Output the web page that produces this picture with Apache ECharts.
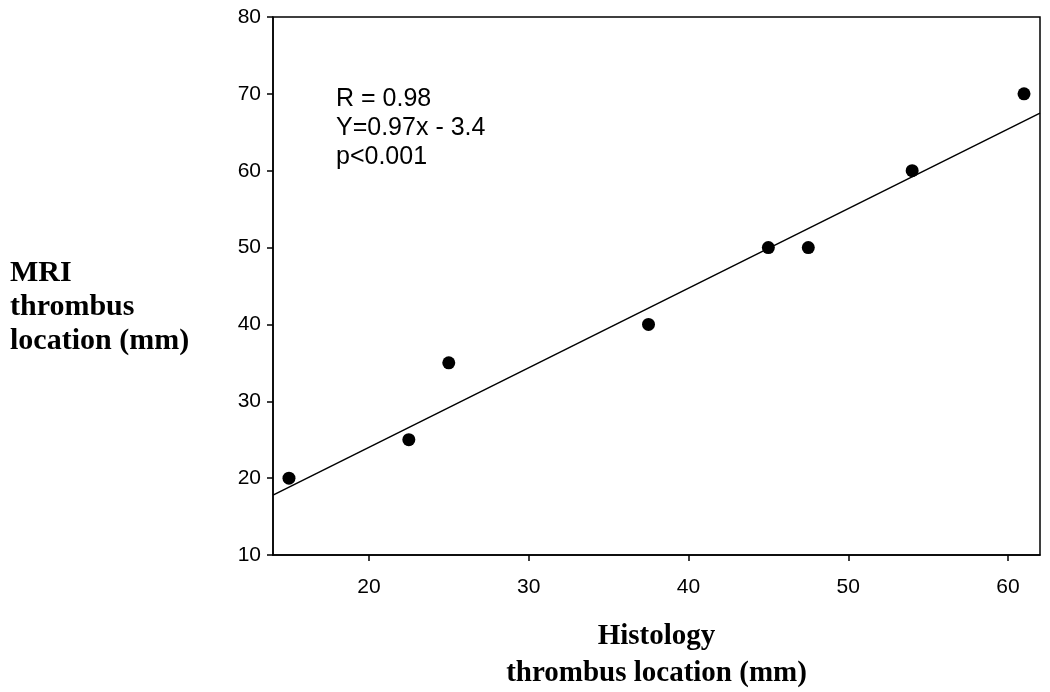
<!DOCTYPE html>
<html>
<head>
<meta charset="utf-8">
<script src="https://cdn.jsdelivr.net/npm/echarts@6/dist/echarts.min.js"></script>
<style>
  html, body { margin: 0; padding: 0; background: #fff; }
  #chart { width: 1050px; height: 692px; }
</style>
</head>
<body>
<div id="chart"></div>
<script>
// histology vs MRI thrombus location (mm)
const histology = [15, 22.5, 25, 37.5, 45, 47.5, 54, 61];
const mri = [20, 25, 35, 40, 50, 50, 60, 70];
// fitted line as drawn, end points at the plot edges
const fitX = [14, 62];
const fitY = [17.8, 67.5];
const xTicks = [20, 30, 40, 50, 60];
const statLines = ['R = 0.98', 'Y=0.97x - 3.4', 'p<0.001'];

const chart = echarts.init(document.getElementById('chart'));

const option = {
  animation: false,
  grid: {
    left: 273, right: 10, top: 17, bottom: 137,
    outerBoundsMode: 'none',
    show: true, borderColor: '#000', borderWidth: 1.5
  },
  xAxis: {
    type: 'value',
    min: 14, max: 62,
    splitLine: { show: false },
    axisLine: { lineStyle: { color: '#000', width: 1.5 } },
    axisTick: { customValues: xTicks, length: 6, lineStyle: { color: '#000', width: 1.5 } },
    axisLabel: { customValues: xTicks, color: '#000', fontSize: 21, fontFamily: 'Liberation Sans, Arial', margin: 22 },
    name: 'Histology\nthrombus location (mm)',
    nameLocation: 'middle',
    nameGap: 63,
    nameTextStyle: { color: '#000', fontSize: 29, fontWeight: 'bold', fontFamily: 'Liberation Serif, Times New Roman', lineHeight: 37 }
  },
  yAxis: {
    type: 'value',
    min: 10, max: 80, interval: 10,
    splitLine: { show: false },
    axisLine: { lineStyle: { color: '#000', width: 1.5 } },
    axisTick: { length: 6, lineStyle: { color: '#000', width: 1.5 } },
    axisLabel: { color: '#000', fontSize: 21, fontFamily: 'Liberation Sans, Arial', margin: 12 }
  },
  graphic: [
    {
      type: 'text', left: 10, top: 256,
      style: {
        text: 'MRI\nthrombus\nlocation (mm)',
        fill: '#000', fontSize: 30, fontWeight: 'bold',
        fontFamily: 'Liberation Serif, Times New Roman', lineHeight: 34
      }
    },
    {
      type: 'text', left: 336, top: 85,
      style: {
        text: statLines.join('\n'),
        fill: '#000', fontSize: 25,
        fontFamily: 'Liberation Sans, Arial', lineHeight: 29
      }
    }
  ],
  series: [
    {
      type: 'line',
      data: fitX.map((x, i) => [x, fitY[i]]),
      showSymbol: false,
      lineStyle: { color: '#000', width: 1.5 },
      silent: true
    },
    {
      type: 'scatter',
      data: histology.map((x, i) => [x, mri[i]]),
      symbolSize: 13,
      itemStyle: { color: '#000', opacity: 1 }
    }
  ]
};

chart.setOption(option);
</script>
</body>
</html>
